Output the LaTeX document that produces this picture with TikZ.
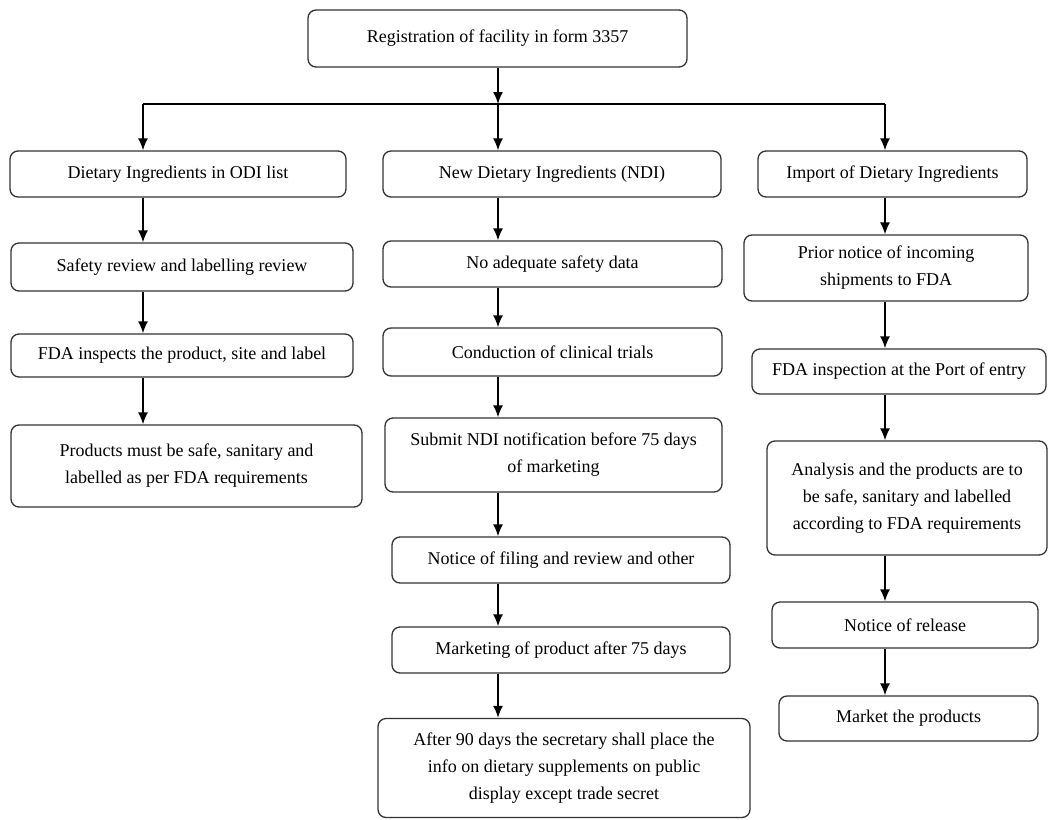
\documentclass[tikz,border=0pt]{standalone}
\usepackage{fontspec}
\setmainfont{Liberation Serif}
\usetikzlibrary{arrows.meta}
\tikzset{
  box/.style={draw=black!80, line width=1.3pt, rounded corners=8pt, fill=white,
    align=center, inner sep=2pt, font=\fontsize{18}{27}\selectfont},
  arr/.style={-{Latex[length=12pt,width=10pt]}, line width=1.6pt},
  bus/.style={line width=2.6pt}
}
\begin{document}
\begin{tikzpicture}[x=1pt,y=-1pt]
\useasboundingbox (0,0) rectangle (1049,819);
% column lines
\coordinate (c1) at (143,0);
\coordinate (c2) at (498,0);
\coordinate (c3) at (885,0);
\coordinate (busL) at (143,104);
\coordinate (busM) at (498,104);
\coordinate (busR) at (885,104);
% top
\node[box, minimum width=379pt, minimum height=57pt] (reg) at (497.5,38.5) {Registration of facility in form 3357};
% left column
\node[box, minimum width=336pt, minimum height=46pt] (odi) at (178,174) {Dietary Ingredients in ODI list};
\node[box, minimum width=342pt, minimum height=48pt] (safe) at (182,267) {Safety review and labelling review};
\node[box, minimum width=342pt, minimum height=43pt] (insp) at (182,355.5) {FDA inspects the product, site and label};
\node[box, minimum width=351pt, minimum height=82pt] (must) at (186.5,466) {Products must be safe, sanitary and\\labelled as per FDA requirements};
% middle column
\node[box, minimum width=338pt, minimum height=46pt] (ndi) at (552,174) {New Dietary Ingredients (NDI)};
\node[box, minimum width=339pt, minimum height=46pt] (noadq) at (552.5,264) {No adequate safety data};
\node[box, minimum width=339pt, minimum height=48pt] (cond) at (552.5,352) {Conduction of clinical trials};
\node[box, minimum width=337pt, minimum height=74pt] (subm) at (553.5,455) {Submit NDI notification before 75 days\\of marketing};
\node[box, minimum width=338pt, minimum height=46pt] (filing) at (561,560) {Notice of filing and review and other};
\node[box, minimum width=338pt, minimum height=46pt] (mkt) at (561,650) {Marketing of product after 75 days};
\node[box, minimum width=372pt, minimum height=99pt] (after) at (564,768) {After 90 days the secretary shall place the\\info on dietary supplements on public\\display except trade secret};
% right column
\node[box, minimum width=269pt, minimum height=46pt] (imp) at (892.5,174) {Import of Dietary Ingredients};
\node[box, minimum width=284pt, minimum height=66pt] (prior) at (886,268) {Prior notice of incoming\\shipments to FDA};
\node[box, minimum width=294pt, minimum height=45pt] (port) at (899,371.5) {FDA inspection at the Port of entry};
\node[box, minimum width=280pt, minimum height=114pt] (anal) at (907,498) {Analysis and the products are to\\be safe, sanitary and labelled\\according to FDA requirements};
\node[box, minimum width=266pt, minimum height=46pt] (rel) at (905,625) {Notice of release};
\node[box, minimum width=259pt, minimum height=45pt] (mkp) at (908.5,718.5) {Market the products};
% connectors
\draw[arr] (reg.south -| busM) -- (busM);
\draw[bus] (busL) -- (busR);
\draw[arr] (busL) -- (odi.north -| busL);
\draw[arr] (busM) -- (ndi.north -| busM);
\draw[arr] (busR) -- (imp.north -| busR);
\foreach \a/\b in {odi/safe,safe/insp,insp/must}
\draw[arr] (\a.south -| c1) -- (\b.north -| c1);
\foreach \a/\b in {ndi/noadq,noadq/cond,cond/subm,subm/filing,filing/mkt,mkt/after}
\draw[arr] (\a.south -| c2) -- (\b.north -| c2);
\foreach \a/\b in {imp/prior,prior/port,port/anal,anal/rel,rel/mkp}
\draw[arr] (\a.south -| c3) -- (\b.north -| c3);
\end{tikzpicture}
\end{document}
